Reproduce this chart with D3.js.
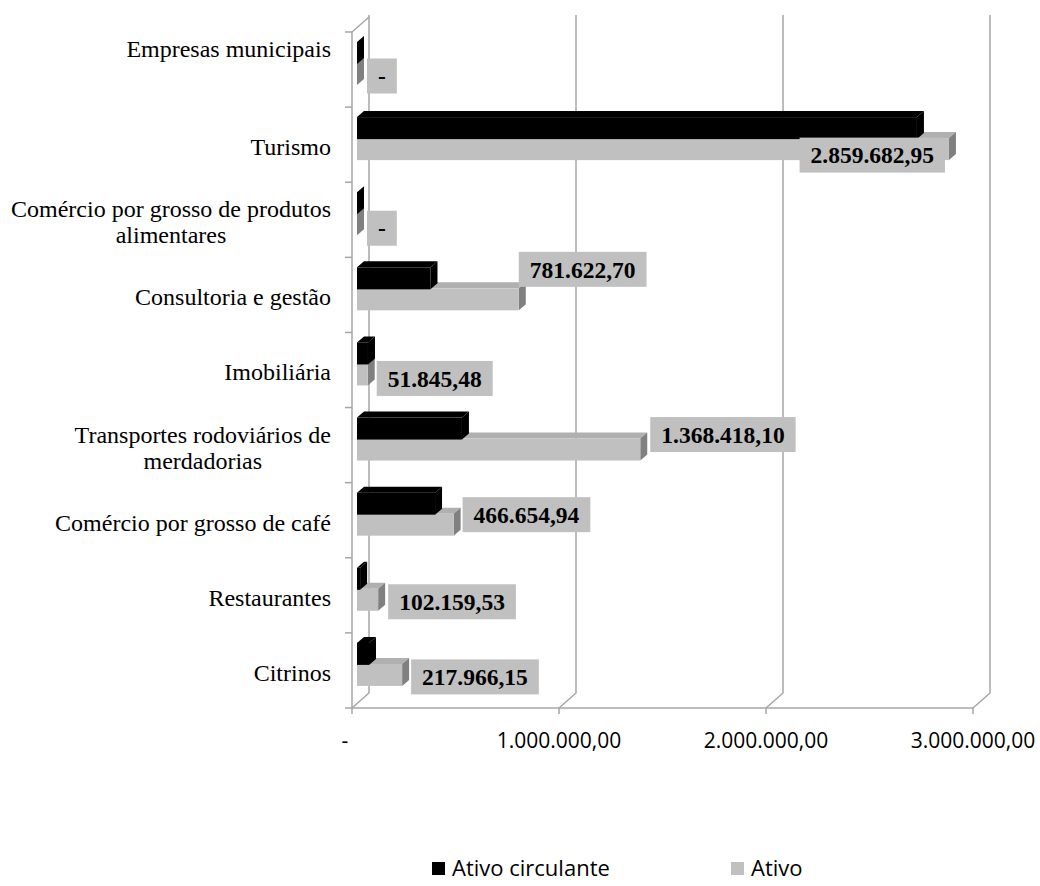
<!DOCTYPE html>
<html>
<head>
  <meta charset="utf-8">
  <script src="https://d3js.org/d3.v7.min.js"></script>
  <style>
    body { margin: 0; background: #fff; }
    .cat { font-family: "Liberation Serif", "Times New Roman", serif; font-size: 24px; fill: #000; }
    .tick-label { font-family: "Open Sans", "Noto Sans", sans-serif; font-size: 21px; fill: #000; }
    .val { font-family: "Liberation Serif", "Times New Roman", serif; font-size: 23.5px; font-weight: bold; fill: #000; }
    .legend { font-family: "Open Sans", "Noto Sans", sans-serif; font-size: 22px; fill: #000; }
  </style>
</head>
<body>
<div id="chart"></div>
<script>
// categories, top to bottom
var categories = [
  "Empresas municipais",
  "Turismo",
  "Comércio por grosso de produtos\nalimentares",
  "Consultoria e gestão",
  "Imobiliária",
  "Transportes rodoviários de\nmerdadorias",
  "Comércio por grosso de café",
  "Restaurantes",
  "Citrinos"
];
var ativoCirculante = [0, 2705000, 0, 355000, 53000, 507000, 377000, 15000, 58000];
var ativo = [0, 2859682.95, 0, 781622.70, 51845.48, 1368418.10, 466654.94, 102159.53, 217966.15];
var tickValues = [0, 1000000, 2000000, 3000000];
var seriesNames = ["Ativo circulante", "Ativo"];

// label nudges (moved by hand in the original)
var labelNudge = [[3, 2], [0, 6], [3, 4], [-7, -30], [2, 4], [3, -15], [2, -10], [3, 2], [2, 2]];

var W = 1040, H = 886;
var svg = d3.select("#chart").append("svg").attr("width", W).attr("height", H);

var x = d3.scaleLinear().domain([0, 3000000]).range([352, 973]);
var y = d3.scaleBand().domain(categories).range([32, 708]);
var depthX = 17, depthY = -15;   // back wall offset
var capX = 7, capY = -6;         // bar 3d depth
var barShift = 5;

var ptBR = d3.formatLocale({decimal: ",", thousands: ".", grouping: [3], currency: ["", ""]});
var fmt = function (v) { return v === 0 ? "-" : ptBR.format(",.2f")(v); };

// gridlines (back wall) + floor links
var grid = svg.append("g");
tickValues.forEach(function (t) {
  var xf = x(t), xb = x(t) + depthX;
  grid.append("path")
    .attr("d", "M" + xb + ",15 L" + xb + "," + (708 + depthY) + " L" + xf + ",708")
    .attr("fill", "none").attr("stroke", "#a6a6a6").attr("stroke-width", 1.5);
});
// left wall
grid.append("path")
  .attr("d", "M352,708 L352,32 L" + (352 + depthX) + "," + (32 + depthY))
  .attr("fill", "none").attr("stroke", "#a6a6a6").attr("stroke-width", 1.5);
// floor baseline
grid.append("line").attr("x1", 352).attr("x2", 973).attr("y1", 708).attr("y2", 708)
  .attr("stroke", "#a6a6a6").attr("stroke-width", 1.5);
// category ticks
categories.concat([null]).forEach(function (c, i) {
  var yy = i < categories.length ? y(c) : 708;
  grid.append("line").attr("x1", 345).attr("x2", 352).attr("y1", yy).attr("y2", yy)
    .attr("stroke", "#a6a6a6").attr("stroke-width", 1.5);
});
// value ticks
tickValues.forEach(function (t) {
  grid.append("line").attr("x1", x(t)).attr("x2", x(t)).attr("y1", 708).attr("y2", 714)
    .attr("stroke", "#a6a6a6").attr("stroke-width", 1.5);
});

// 3d bar: front face + top face + right face
function bar3d(g, x0, x1, y0, h, front, top, side) {
  g.append("path")
    .attr("d", "M" + x0 + "," + y0 + " L" + (x0 + capX) + "," + (y0 + capY) +
      " L" + (x1 + capX) + "," + (y0 + capY) + " L" + x1 + "," + y0 + "Z")
    .attr("fill", top);
  g.append("path")
    .attr("d", "M" + x1 + "," + y0 + " L" + (x1 + capX) + "," + (y0 + capY) +
      " L" + (x1 + capX) + "," + (y0 + h + capY) + " L" + x1 + "," + (y0 + h) + "Z")
    .attr("fill", side);
  g.append("rect").attr("x", x0).attr("y", y0).attr("width", Math.max(0, x1 - x0)).attr("height", h)
    .attr("fill", front);
}

var bars = svg.append("g");
categories.forEach(function (c, i) {
  var b = y(c);
  var x0 = x(0) + barShift;
  // gray (Ativo) drawn first, black sits on top of it
  bar3d(bars, x0, x(ativo[i]) + barShift, b + 31, 22, "#c0c0c0", "#b0b0b0", "#808080");
  bar3d(bars, x0, x(ativoCirculante[i]) + barShift, b + 10, 22, "#000", "#000", "#000");
});

// value labels
var labels = svg.append("g");
categories.forEach(function (c, i) {
  var g = labels.append("g");
  var t = g.append("text").attr("class", "val").text(fmt(ativo[i]));
  var tw = t.node().getComputedTextLength();
  var bw = tw + 22, bh = 35;
  var endX = x(ativo[i]) + barShift + capX;
  var cy = y(c) + 31 + 11 + labelNudge[i][1];
  var bx = (i === 1) ? x(ativo[i]) + barShift - 4 - bw : endX + labelNudge[i][0];
  g.insert("rect", "text").attr("x", bx).attr("y", cy - bh / 2).attr("width", bw).attr("height", bh)
    .attr("fill", "#c0c0c0");
  t.attr("x", bx + bw / 2).attr("y", cy).attr("text-anchor", "middle").attr("dy", "0.35em");
});

// category labels: lines centred on each other, block right aligned
categories.forEach(function (c, i) {
  var lines = c.split("\n");
  var cy = y(c) + y.bandwidth() / 2 + (i === 0 ? -21 : 2);
  var g = svg.append("g");
  var ts = lines.map(function (l, k) {
    return g.append("text").attr("class", "cat").attr("text-anchor", "middle")
      .attr("y", cy + (k - (lines.length - 1) / 2) * 26).attr("dy", "0.35em").text(l);
  });
  var maxW = d3.max(ts, function (t) { return t.node().getComputedTextLength(); });
  ts.forEach(function (t) { t.attr("x", 331 - maxW / 2); });
});

// value axis labels
tickValues.forEach(function (t) {
  svg.append("text").attr("class", "tick-label")
    .attr("x", t === 0 ? 345 : x(t)).attr("y", 741).attr("dy", "0.35em")
    .attr("text-anchor", "middle").text(t === 0 ? "-" : fmt(t));
});

// legend
var legendColors = ["#000", "#c0c0c0"];
var legendX = [432, 731];
seriesNames.forEach(function (s, i) {
  svg.append("rect").attr("x", legendX[i]).attr("y", 862).attr("width", 13).attr("height", 13)
    .attr("fill", legendColors[i]);
  svg.append("text").attr("class", "legend").attr("x", legendX[i] + 20).attr("y", 876)
    .text(s);
});
</script>
</body>
</html>
